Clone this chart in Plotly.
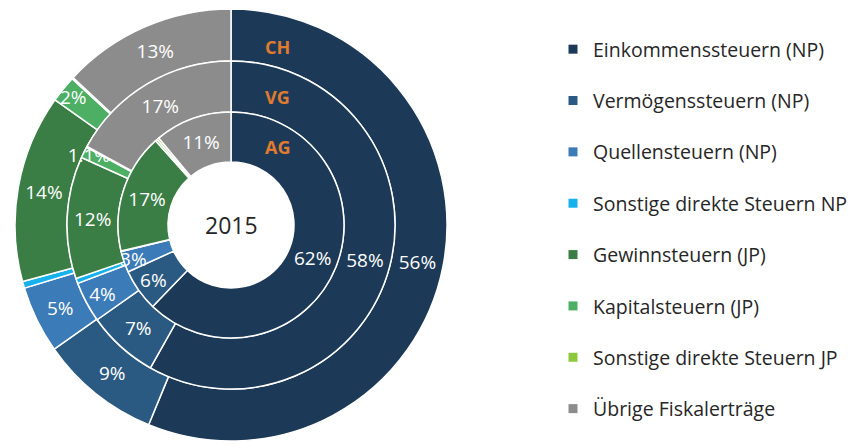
import plotly.graph_objects as go

# Steuerarten (legend order = slice order, clockwise from 12 o'clock)
categories = [
    "Einkommenssteuern (NP)",
    "Vermögenssteuern (NP)",
    "Quellensteuern (NP)",
    "Sonstige direkte Steuern NP",
    "Gewinnsteuern (JP)",
    "Kapitalsteuern (JP)",
    "Sonstige direkte Steuern JP",
    "Übrige Fiskalerträge",
]
colours = [
    "#1c3a57",
    "#2a5a82",
    "#3a7bb8",
    "#17b2ee",
    "#3a7d45",
    "#4caf64",
    "#8cc83c",
    "#8c8c8c",
]

# shares in percent per level
ch_values = [56, 9, 5, 0.5, 14, 2, 0.1, 13]
vg_values = [58, 7, 4, 0.5, 12, 1.1, 0.1, 17]
ag_values = [62, 6, 3, 0.1, 17, 0.3, 0.3, 11]

ch_labels = ["56%", "9%", "5%", "", "14%", "2%", "", "13%"]
vg_labels = ["58%", "7%", "4%", "", "12%", "1.1%", "", "17%"]
ag_labels = ["62%", "6%", "3%", "", "17%", "", "", "11%"]

WIDTH, HEIGHT = 856, 446
CX, CY = 231, 225          # pie centre in px (from top-left)
RADII = [216, 164, 113, 63]  # outer CH, outer VG, outer AG, hole
FONT = "Open Sans, Arial"


def pie_domain(r):
    """Domain in paper coords for a pie of radius r centred at CX, CY."""
    return {
        "x": [(CX - r) / WIDTH, (CX + r) / WIDTH],
        "y": [(HEIGHT - CY - r) / HEIGHT, (HEIGHT - CY + r) / HEIGHT],
    }


fig = go.Figure()

rings = [
    (ch_values, ch_labels, RADII[0], RADII[1]),
    (vg_values, vg_labels, RADII[1], RADII[2]),
    (ag_values, ag_labels, RADII[2], RADII[3]),
]
for values, labels, r_out, r_in in rings:
    fig.add_trace(go.Pie(
        labels=categories,
        values=values,
        text=labels,
        textinfo="text",
        textposition="inside",
        insidetextorientation="horizontal",
        textfont={"color": "white", "size": 19, "family": FONT},
        hole=r_in / r_out,
        sort=False,
        direction="clockwise",
        rotation=0,
        marker={"colors": colours, "line": {"color": "white", "width": 1.5}},
        domain=pie_domain(r_out),
        showlegend=False,
        hoverinfo="label+text",
    ))

# legend entries (one per category, own group so we can space them out)
for name, colour in zip(categories, colours):
    fig.add_trace(go.Scatter(
        x=[None], y=[None],
        mode="markers",
        name=name,
        legendgroup=name,
        marker={"symbol": "square", "size": 9, "color": colour},
    ))

# level labels and year in the middle
for label, y in [("CH", 47), ("VG", 97), ("AG", 147)]:
    fig.add_annotation(
        x=(CX + 46) / WIDTH, y=1 - y / HEIGHT, xref="paper", yref="paper",
        xanchor="center", yanchor="middle",
        text=f"<b>{label}</b>", showarrow=False,
        font={"size": 18, "color": "#e07b2f", "family": FONT},
    )
fig.add_annotation(
    x=CX / WIDTH, y=1 - CY / HEIGHT, xref="paper", yref="paper",
    xanchor="center", yanchor="middle",
    text="2015", showarrow=False,
    font={"size": 23, "color": "#262626", "family": FONT},
)

fig.update_xaxes(visible=False)
fig.update_yaxes(visible=False)
fig.update_layout(
    width=WIDTH,
    height=HEIGHT,
    margin={"l": 0, "r": 0, "t": 0, "b": 0},
    paper_bgcolor="white",
    plot_bgcolor="white",
    uniformtext={"minsize": 19, "mode": "show"},
    legend={
        "x": 553 / WIDTH,
        "y": 1 - 30 / HEIGHT,
        "xanchor": "left",
        "yanchor": "top",
        "tracegroupgap": 23,
        "font": {"size": 19.5, "color": "#262626", "family": FONT},
        "bgcolor": "rgba(0,0,0,0)",
    },
)

# page body has a default 8px margin; drop it so the figure sits at 0,0
fig.write_html(
    "out.html",
    config={"displayModeBar": False},
    post_script="document.body.style.margin='0';",
)
